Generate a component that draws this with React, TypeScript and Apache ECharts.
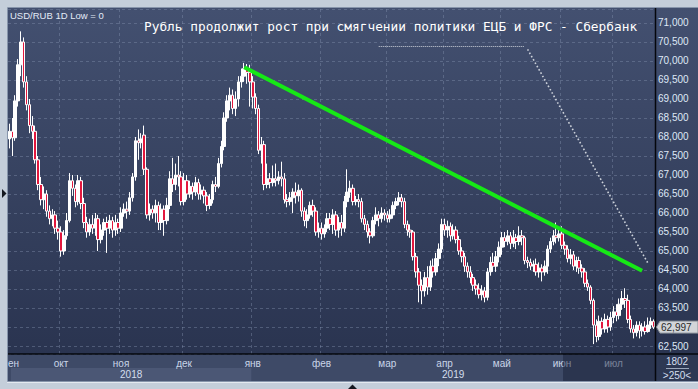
import React, { useEffect, useRef } from 'react';
import * as echarts from 'echarts';

const monthNames = ['янв', 'фев', 'мар', 'апр', 'май', 'июн', 'июл', 'авг', 'сен', 'окт', 'ноя', 'дек'];

// trading days per month (year-month, day numbers)
const tradingDays: [string, number[]][] = [
  ['2018-09', [5, 6, 7, 10, 11, 12, 13, 14, 17, 18, 19, 20, 21, 24, 25, 26, 27, 28]],
  ['2018-10', [1, 2, 3, 5, 8, 9, 10, 11, 12, 15, 16, 17, 19, 22, 23, 24, 25, 26, 29, 30, 31]],
  ['2018-11', [1, 2, 5, 6, 7, 8, 9, 12, 13, 14, 15, 16, 19, 20, 21, 22, 23, 26, 27, 28, 29, 30]],
  ['2018-12', [1, 3, 4, 5, 6, 7, 8, 10, 11, 12, 13, 14, 15, 17, 18, 19, 20, 21, 24, 25, 26, 27, 28, 29]],
  ['2019-01', [2, 3, 4, 7, 8, 9, 10, 11, 12, 14, 15, 16, 17, 18, 19, 21, 22, 23, 24, 25, 28, 29, 30, 31]],
  ['2019-02', [1, 2, 4, 5, 6, 7, 8, 9, 11, 12, 13, 14, 15, 18, 19, 20, 21, 22, 23, 25, 26, 27, 28]],
  ['2019-03', [1, 4, 5, 6, 7, 11, 12, 13, 14, 15, 18, 19, 20, 21, 22, 25, 26, 27, 28, 29]],
  ['2019-04', [1, 2, 3, 4, 5, 8, 9, 10, 11, 12, 15, 16, 17, 18, 19, 22, 23, 24, 25, 26]],
  ['2019-05', [2, 3, 6, 7, 8, 10, 13, 14, 15, 16, 17, 20, 21, 22, 23, 24, 27, 28, 29, 30, 31]],
  ['2019-06', [3, 4, 5, 6, 7, 10, 11, 13, 14, 17, 18, 19, 20, 21, 24, 25, 26, 27]],
  ['2019-07', [1, 2, 3, 4, 5, 8, 9, 10, 11, 12, 15, 16, 17, 18, 19]],
];

// [open, close, low, high] in RUB
const sep2018 = [
  [67.95, 68.15, 67.70, 68.35], [68.15, 67.98, 67.50, 68.50], [67.98, 68.95, 67.90, 69.10],
  [68.95, 69.90, 68.80, 70.05], [69.90, 70.50, 69.60, 70.78], [70.50, 69.45, 69.30, 70.62],
  [69.45, 68.85, 68.70, 69.60], [68.85, 68.30, 68.10, 69.00], [68.30, 68.15, 67.95, 68.55],
  [68.15, 67.40, 67.30, 68.30], [67.40, 66.75, 66.60, 67.50], [66.75, 66.35, 66.20, 66.95],
  [66.35, 66.50, 66.10, 66.70], [66.50, 66.05, 65.90, 66.60], [66.05, 65.85, 65.70, 66.20],
  [65.85, 65.95, 65.65, 66.10], [65.95, 65.60, 65.45, 66.05], [65.60, 65.50, 65.30, 65.80],
];
const oct2018 = [
  [65.50, 65.00, 64.85, 65.65], [65.00, 65.40, 64.90, 65.55], [65.40, 65.80, 65.30, 66.00],
  [65.80, 66.85, 65.75, 67.05], [66.85, 66.65, 66.45, 67.00], [66.65, 66.30, 66.15, 66.75],
  [66.30, 66.85, 66.20, 67.00], [66.85, 66.25, 66.10, 66.95], [66.25, 65.75, 65.60, 66.40],
  [65.75, 65.50, 65.35, 65.90], [65.50, 65.70, 65.40, 65.85], [65.70, 65.60, 65.45, 65.95],
  [65.60, 65.85, 65.40, 66.00], [65.85, 65.30, 65.00, 65.95], [65.30, 65.55, 65.20, 65.70],
  [65.55, 65.75, 65.40, 65.85], [65.75, 65.60, 64.95, 65.90], [65.60, 65.80, 65.45, 65.95],
  [65.80, 65.55, 65.35, 65.90], [65.55, 65.75, 65.40, 65.95], [65.75, 65.60, 65.45, 65.85],
];
const nov2018 = [
  [65.60, 66.00, 65.50, 66.15], [66.00, 66.10, 65.90, 66.25], [66.10, 66.05, 65.85, 66.30],
  [66.05, 66.40, 65.95, 66.55], [66.40, 66.95, 66.30, 67.05], [66.95, 67.90, 66.85, 68.00],
  [67.90, 67.85, 67.40, 68.20], [67.85, 67.95, 67.70, 68.10], [68.05, 67.15, 67.00, 68.30],
  [67.15, 65.95, 65.85, 67.20], [65.95, 66.10, 65.80, 66.25], [66.10, 66.00, 65.85, 66.20],
  [66.00, 66.20, 65.75, 66.35], [66.20, 65.75, 65.55, 66.30], [65.75, 66.10, 65.55, 66.25],
  [66.10, 65.80, 65.40, 66.20], [65.80, 66.20, 65.70, 66.40], [66.20, 66.90, 66.10, 67.10],
  [66.90, 66.75, 66.55, 67.45], [66.75, 67.00, 66.60, 67.30], [67.00, 66.95, 66.70, 67.50],
  [66.95, 66.30, 66.20, 67.10],
];
const dec2018 = [
  [66.30, 66.85, 66.20, 67.05], [66.85, 66.50, 66.35, 67.00], [66.50, 66.70, 66.40, 66.85],
  [66.70, 66.55, 66.35, 66.80], [66.55, 66.80, 66.45, 66.95], [66.80, 66.50, 66.35, 66.90],
  [66.50, 66.60, 66.35, 66.75], [66.60, 66.45, 66.25, 66.70], [66.45, 66.20, 66.05, 66.55],
  [66.20, 66.35, 66.10, 66.50], [66.35, 66.75, 66.25, 66.85], [66.75, 66.70, 66.55, 66.95],
  [66.70, 67.30, 66.65, 67.45], [67.30, 67.75, 67.20, 67.90], [67.75, 68.50, 67.65, 68.65],
  [68.50, 68.95, 68.40, 69.10], [68.95, 69.10, 68.70, 69.30], [69.10, 68.75, 68.60, 69.25],
  [68.75, 69.00, 68.55, 69.20], [69.00, 69.45, 68.80, 69.60], [69.45, 69.60, 69.30, 69.80],
  [69.60, 69.80, 69.45, 69.95], [69.80, 69.70, 69.40, 69.92], [69.70, 69.45, 68.80, 69.90],
];
const jan2019 = [
  [69.45, 69.05, 68.75, 69.60], [69.05, 68.75, 68.60, 69.15], [68.75, 67.65, 67.55, 68.85],
  [67.65, 67.80, 67.30, 68.00], [67.80, 66.75, 66.60, 67.90], [66.75, 66.90, 66.65, 67.30],
  [66.90, 66.80, 66.65, 67.05], [66.80, 66.90, 66.70, 67.25], [66.90, 66.85, 66.70, 67.30],
  [66.85, 66.95, 66.75, 67.10], [66.95, 66.90, 66.70, 67.35], [66.90, 66.35, 66.25, 67.05],
  [66.35, 66.30, 66.15, 66.50], [66.30, 66.40, 66.20, 66.55], [66.40, 66.55, 66.00, 66.65],
  [66.55, 66.45, 66.25, 66.80], [66.45, 66.60, 66.30, 66.75], [66.60, 66.05, 65.90, 66.65],
  [66.05, 65.80, 65.65, 66.15], [65.80, 65.95, 65.60, 66.10], [65.95, 66.20, 65.85, 66.30],
  [66.20, 66.05, 65.90, 66.35], [66.05, 65.50, 65.40, 66.15], [65.50, 65.60, 65.35, 65.75],
];
const feb2019 = [
  [65.60, 65.45, 65.30, 65.75], [65.45, 65.60, 65.35, 65.70], [65.60, 65.85, 65.50, 66.00],
  [65.85, 65.70, 65.55, 66.00], [65.70, 65.95, 65.45, 66.10], [65.95, 65.55, 65.40, 66.05],
  [65.55, 65.75, 65.35, 65.90], [65.75, 65.60, 65.40, 65.95], [65.60, 66.30, 65.50, 66.45],
  [66.30, 66.55, 66.15, 67.15], [66.55, 66.65, 66.40, 66.85], [66.65, 66.30, 66.20, 66.75],
  [66.30, 66.35, 66.20, 66.45], [66.35, 66.30, 66.15, 66.50], [66.30, 65.85, 65.75, 66.40],
  [65.85, 65.70, 65.55, 65.95], [65.70, 65.50, 65.35, 65.80], [65.50, 65.40, 65.20, 65.60],
  [65.40, 65.80, 65.35, 65.90], [65.80, 65.95, 65.70, 66.15], [65.95, 65.85, 65.65, 66.05],
  [65.85, 66.00, 65.75, 66.15], [66.00, 65.95, 65.80, 66.10],
];
const mar2019 = [
  [65.95, 65.85, 65.75, 66.05], [65.85, 65.95, 65.75, 66.10], [65.95, 66.20, 65.85, 66.30],
  [66.20, 66.30, 66.10, 66.40], [66.30, 66.40, 66.20, 66.55], [66.40, 66.30, 66.15, 66.50],
  [66.30, 65.70, 65.60, 66.40], [65.70, 65.55, 65.40, 65.80], [65.55, 65.50, 65.35, 65.70],
  [65.50, 64.85, 64.75, 65.55], [64.85, 64.45, 64.30, 64.95], [64.45, 64.10, 63.65, 64.55],
  [64.10, 63.95, 63.60, 64.25], [63.95, 64.30, 63.80, 64.45], [64.30, 64.05, 63.85, 64.60],
  [64.05, 64.60, 63.95, 64.75], [64.60, 64.45, 64.30, 64.80], [64.45, 64.80, 64.35, 64.95],
  [64.80, 65.05, 64.60, 65.20], [65.05, 65.70, 64.95, 65.85],
];
const apr2019 = [
  [65.70, 65.55, 65.40, 65.85], [65.55, 65.65, 65.35, 65.80], [65.65, 65.40, 65.25, 65.75],
  [65.40, 65.55, 65.30, 65.70], [65.55, 65.30, 65.20, 65.65], [65.30, 65.00, 64.90, 65.40],
  [65.00, 64.85, 64.70, 65.10], [64.85, 64.60, 64.45, 64.95], [64.60, 64.45, 64.30, 64.70],
  [64.45, 64.30, 64.15, 64.60], [64.30, 64.10, 63.95, 64.40], [64.10, 64.00, 63.85, 64.25],
  [64.00, 63.85, 63.75, 64.15], [63.85, 63.95, 63.70, 64.10], [63.95, 63.78, 63.65, 64.05],
  [63.78, 64.45, 63.70, 64.55], [64.45, 64.70, 64.35, 64.85], [64.70, 64.60, 64.45, 64.95],
  [64.60, 64.85, 64.45, 65.00], [64.85, 65.10, 64.70, 65.25],
];
const may2019 = [
  [65.10, 65.35, 64.90, 65.50], [65.35, 65.25, 65.10, 65.50], [65.25, 65.40, 65.15, 65.55],
  [65.40, 65.20, 65.05, 65.50], [65.20, 65.35, 65.10, 65.55], [65.35, 65.25, 65.05, 65.45],
  [65.25, 65.40, 65.15, 65.65], [65.40, 65.35, 65.15, 65.55], [65.35, 64.75, 64.65, 65.40],
  [64.75, 64.70, 64.55, 64.85], [64.70, 64.60, 64.50, 64.80], [64.60, 64.65, 64.45, 64.75],
  [64.65, 64.45, 64.35, 64.80], [64.45, 64.55, 64.30, 64.70], [64.55, 64.45, 64.20, 64.65],
  [64.45, 64.60, 64.35, 64.75], [64.60, 65.05, 64.40, 65.15], [65.05, 65.25, 64.95, 65.35],
  [65.25, 65.40, 65.15, 65.55], [65.40, 65.35, 65.20, 65.75], [65.35, 65.45, 65.25, 65.60],
];
const jun2019 = [
  [65.45, 65.15, 65.05, 65.65], [65.15, 65.05, 64.90, 65.25], [65.05, 64.80, 64.70, 65.15],
  [64.80, 64.90, 64.65, 65.05], [64.90, 64.60, 64.50, 65.00], [64.60, 64.75, 64.45, 64.85],
  [64.75, 64.55, 64.40, 64.85], [64.55, 64.45, 64.30, 64.65], [64.45, 64.15, 64.05, 64.55],
  [64.15, 64.05, 63.95, 64.25], [64.05, 63.70, 63.60, 64.10], [63.70, 63.05, 62.55, 63.75],
  [63.05, 62.75, 62.60, 63.20], [62.75, 63.15, 62.65, 63.30], [63.15, 62.95, 62.80, 63.25],
  [62.95, 63.20, 62.85, 63.35], [63.20, 63.00, 62.85, 63.30], [63.00, 63.25, 62.90, 63.40],
];
const jul2019 = [
  [63.25, 63.40, 63.10, 63.55], [63.40, 63.30, 63.15, 63.60], [63.30, 63.60, 63.20, 63.75],
  [63.60, 63.75, 63.45, 63.95], [63.75, 63.70, 63.50, 64.02], [63.70, 63.20, 63.10, 63.85],
  [63.20, 62.95, 62.85, 63.30], [62.95, 62.85, 62.70, 63.05], [62.85, 63.05, 62.75, 63.15],
  [63.05, 62.90, 62.70, 63.15], [62.90, 63.00, 62.75, 63.10], [63.00, 62.88, 62.80, 63.15],
  [62.88, 63.05, 62.85, 63.25], [63.05, 63.15, 62.95, 63.25], [63.15, 62.997, 62.95, 63.20],
];

const lastClose = 62.997;

// annotation lines: [category, value] pairs
const trendLine = [['2018-12-27', 69.834], ['2019-07-15', 64.48]];
const dottedFlat = [['2019-02-26', 70.376], ['2019-05-15', 70.376]];
const dottedSlope = [['2019-05-16', 70.308], ['2019-07-17', 64.684]];

const titleText = 'Рубль продолжит рост при смягчении политики ЕЦБ и ФРС - Сбербанк';
const symbolText = 'USD/RUB 1D Low = 0';
const cornerTop = '1802';
const cornerBottom = '>250<';

const categories: string[] = tradingDays.flatMap(([ym, days]) =>
  days.map((d) => `${ym}-${String(d).padStart(2, '0')}`)
);
const candles = [
  ...sep2018, ...oct2018, ...nov2018, ...dec2018, ...jan2019, ...feb2019,
  ...mar2019, ...apr2019, ...may2019, ...jun2019, ...jul2019,
];
const isMonthStart = categories.map((c, i) => i > 0 && c.slice(0, 7) !== categories[i - 1].slice(0, 7));

const fmtPrice = (v: number) => {
  const r = Math.round(v * 1000);
  return `${Math.floor(r / 1000)},${String(r % 1000).padStart(3, '0')}`;
};

const GRID = { left: 8, right: 43, top: 9, bottom: 35 };
const W = 698;
const H = 389;

export default function App() {
  const ref = useRef<HTMLDivElement>(null);
  useEffect(() => {
    document.body.style.margin = '0';
    const chart = echarts.init(ref.current!, null, { renderer: 'svg' });
    const gridLine = { color: 'rgba(130,145,175,0.42)', type: [3, 3] as any, width: 1 };
    chart.setOption({
      animation: false,
      backgroundColor: '#c4ceda',
      grid: { ...GRID, containLabel: false },
      xAxis: {
        type: 'category',
        data: categories,
        boundaryGap: true,
        axisLine: { show: false },
        axisTick: { show: false },
        axisLabel: {
          interval: (i: number) => isMonthStart[i],
          formatter: (v: string) => monthNames[parseInt(v.slice(5, 7), 10) - 1],
          color: '#c9d5e8',
          fontSize: 10,
          fontFamily: 'Liberation Sans',
          margin: 4,
        },
        splitLine: { show: true, interval: (i: number) => isMonthStart[i], lineStyle: gridLine },
      },
      yAxis: {
        type: 'value',
        position: 'right',
        min: 62.2895,
        max: 71.368,
        splitNumber: 18,
        axisLine: { show: false },
        axisTick: { show: false },
        axisLabel: {
          color: '#dfe8f6',
          fontSize: 10,
          fontFamily: 'Liberation Sans',
          margin: 3,
          showMinLabel: false,
          showMaxLabel: false,
          // the last-price tag covers the nearest tick label
          formatter: (v: number) =>
            Math.round(v * 1000) % 500 === 0 && Math.abs(v - lastClose) > 0.2 ? fmtPrice(v) : '',
        },
        splitLine: { show: true, lineStyle: gridLine },
      },
      series: [
        {
          type: 'candlestick',
          data: candles,
          barWidth: 3,
          itemStyle: {
            color: '#ffffff',
            color0: '#e2173d',
            borderColor: '#ffffff',
            borderColor0: '#ffffff',
            borderWidth: 1,
          },
          markLine: {
            silent: true,
            symbol: ['none', 'none'],
            label: { show: false },
            emphasis: { disabled: true },
            data: [
              [
                { coord: trendLine[0], lineStyle: { color: '#16e816', width: 4, type: 'solid' } },
                { coord: trendLine[1] },
              ],
              [
                { coord: dottedFlat[0], lineStyle: { color: '#cdd2da', width: 1, type: [1, 1] } },
                { coord: dottedFlat[1] },
              ],
              [
                { coord: dottedSlope[0], lineStyle: { color: '#cdd2da', width: 1.6, type: [1.6, 2.2] } },
                { coord: dottedSlope[1] },
              ],
            ],
          },
        },
      ],
    });

    const px = (i: number, v: number) => chart.convertToPixel({ seriesIndex: 0 }, [i, v]) as number[];
    const bandW = px(1, 70)[0] - px(0, 70)[0];
    const edge = (i: number) => px(i, 70)[0] - bandW / 2;
    const plotRight = W - GRID.right;
    const plotBottom = H - GRID.bottom;
    const first2019 = categories.findIndex((c) => c.startsWith('2019'));
    const yearEdge = edge(first2019);
    const junStart = categories.findIndex((c) => c.startsWith('2019-06'));
    const darkStart = edge(junStart) + 2.5;
    const tagY = px(candles.length - 1, lastClose)[1];
    const font10 = '10px "Liberation Sans"';

    chart.setOption({
      graphic: [
        {
          type: 'rect', z: -10, silent: true,
          shape: { x: 8, y: 8, width: W - 8, height: plotBottom - 8 },
          style: {
            fill: new echarts.graphic.LinearGradient(0, 0, 0, 1, [
              { offset: 0, color: '#435070' },
              { offset: 1, color: '#2a3450' },
            ]),
          },
        },
        {
          type: 'rect', z: -10, silent: true,
          shape: { x: 8, y: plotBottom, width: plotRight - 8, height: 381 - plotBottom },
          style: { fill: '#3e4a67' },
        },
        {
          type: 'rect', z: -9, silent: true,
          shape: { x: 11, y: 368, width: yearEdge - 11, height: 13 },
          style: { fill: '#4b5775' },
        },
        {
          type: 'rect', z: -10, silent: true,
          shape: { x: plotRight, y: plotBottom, width: W - plotRight, height: 381 - plotBottom },
          style: { fill: '#2d3853' },
        },
        {
          type: 'rect', z: 50, silent: true,
          shape: { x: darkStart, y: plotBottom, width: plotRight - darkStart, height: 381 - plotBottom },
          style: { fill: 'rgba(20,28,50,0.44)' },
        },
        {
          type: 'text', z: 40, silent: true,
          style: { text: '2018', x: (11 + yearEdge) / 2, y: 374.5, fill: '#d4deee', font: font10, align: 'center', verticalAlign: 'middle' },
        },
        {
          type: 'text', z: 40, silent: true,
          style: { text: '2019', x: (yearEdge + plotRight) / 2, y: 374.5, fill: '#d4deee', font: font10, align: 'center', verticalAlign: 'middle' },
        },
        {
          type: 'text', z: 40, silent: true,
          style: { text: 'ен', x: 8, y: 363, fill: '#c9d5e8', font: font10, align: 'left', verticalAlign: 'middle' },
        },
        {
          type: 'line', z: 60, silent: true,
          shape: { x1: plotRight + 0.5, y1: 8, x2: plotRight + 0.5, y2: 381 },
          style: { stroke: '#05070c', lineWidth: 1.5 },
        },
        {
          type: 'line', z: 60, silent: true,
          shape: { x1: 8, y1: plotBottom, x2: W, y2: plotBottom },
          style: { stroke: '#05070c', lineWidth: 1.6 },
        },
        {
          type: 'rect', z: 60, silent: true,
          shape: { x: 7.5, y: 7.5, width: W, height: 374 },
          style: { fill: 'none', stroke: '#8795ab', lineWidth: 1 },
        },
        {
          type: 'line', z: 60, silent: true,
          shape: { x1: 7, y1: 382.5, x2: W, y2: 382.5 },
          style: { stroke: '#e4e9f0', lineWidth: 1 },
        },
        {
          type: 'text', z: 40, silent: true,
          style: { text: symbolText, x: 10, y: 15, fill: '#e3ebf7', font: '9.5px "Liberation Sans"', align: 'left', verticalAlign: 'middle' },
        },
        {
          type: 'text', z: 40, silent: true,
          style: { text: titleText, x: 144, y: 26, fill: '#ffffff', font: '12.8px "DejaVu Sans Mono"', align: 'left', verticalAlign: 'middle' },
        },
        {
          type: 'text', z: 40, silent: true,
          style: { text: cornerTop, x: 677, y: 361.5, fill: '#d4deee', font: font10, align: 'center', verticalAlign: 'middle' },
        },
        {
          type: 'line', z: 40, silent: true,
          shape: { x1: 666, y1: 368.5, x2: 689, y2: 368.5 },
          style: { stroke: '#9aa6ba', lineWidth: 1 },
        },
        {
          type: 'text', z: 40, silent: true,
          style: { text: cornerBottom, x: 677, y: 375, fill: '#d4deee', font: font10, align: 'center', verticalAlign: 'middle' },
        },
        {
          type: 'polygon', z: 70, silent: true,
          shape: { points: [[656.5, tagY], [660, tagY - 6], [698, tagY - 6], [698, tagY + 6], [660, tagY + 6]] },
          style: { fill: '#d2d5d9', stroke: '#8a9099', lineWidth: 1 },
        },
        {
          type: 'text', z: 71, silent: true,
          style: { text: fmtPrice(lastClose), x: 661, y: tagY + 0.5, fill: '#2a2a2a', font: font10, align: 'left', verticalAlign: 'middle' },
        },
        {
          type: 'polygon', z: 70, silent: true,
          shape: { points: [[2, 189], [6.5, 193.5], [2, 198]] },
          style: { fill: '#141820' },
        },
        {
          type: 'polygon', z: 70, silent: true,
          shape: { points: [[348, 389], [352.5, 384.5], [357, 389]] },
          style: { fill: '#141820' },
        },
      ],
    });
    return () => chart.dispose();
  }, []);
  return <div ref={ref} style={{ width: W, height: H }} />;
}
